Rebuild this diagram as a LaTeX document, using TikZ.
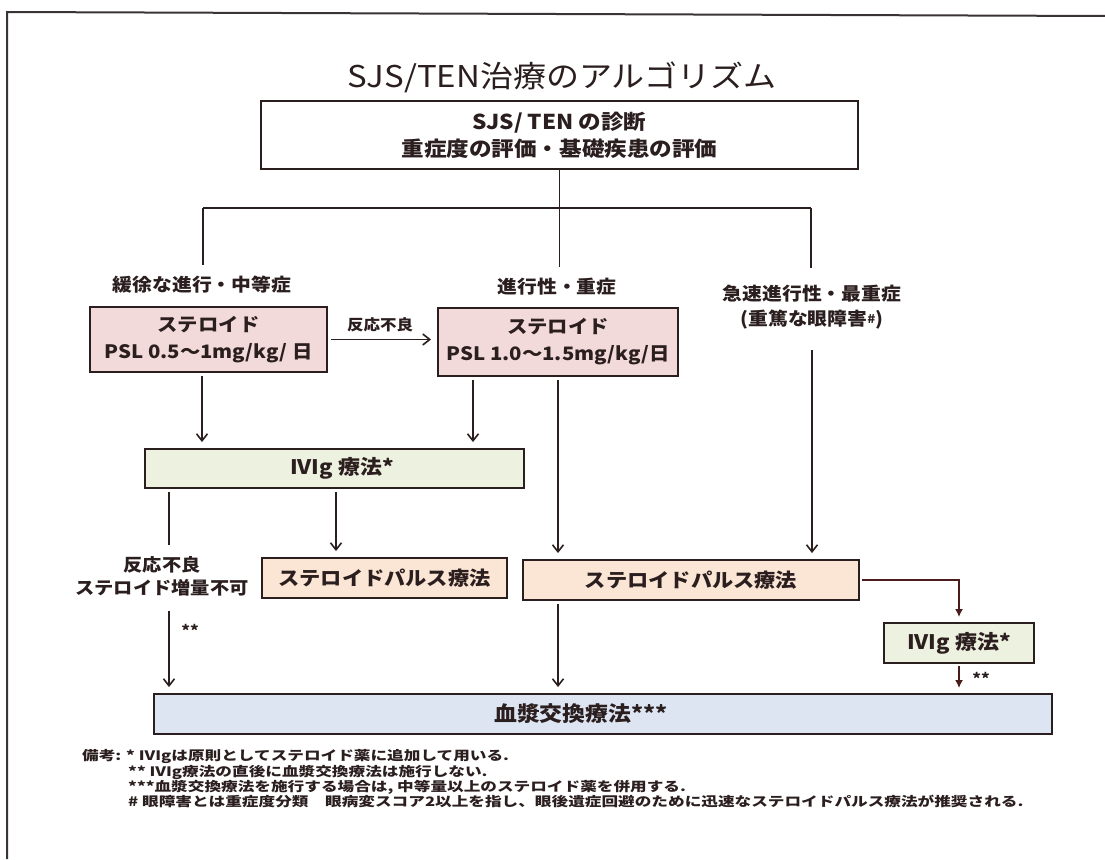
\documentclass[tikz,border=0pt]{standalone}
\usepackage{fontspec}
\setmainfont{Noto Sans CJK JP}[FakeStretch=1.1]
\newfontfamily\notefont{Noto Sans CJK JP}[FakeStretch=1.28]
\usetikzlibrary{arrows.meta}
\definecolor{ink}{HTML}{2B1E1E}
\definecolor{frame}{HTML}{3A3333}
\definecolor{pinkF}{HTML}{F3DADA}
\definecolor{greenF}{HTML}{EDF1DF}
\definecolor{peachF}{HTML}{FBE5D5}
\definecolor{blueF}{HTML}{DDE5F3}
\definecolor{darkred}{HTML}{4A1C1C}
\tikzset{
  ln/.style={draw=ink, line width=1.6pt},
  arr/.style={ln, -{Straight Barb[length=7pt,width=11pt]}, shorten >=6pt, shorten <=3pt},
  redarr/.style={draw=darkred, line width=2.6pt, -{Latex[length=8pt,width=8pt]}, shorten >=5pt, shorten <=2pt},
  box/.style={draw=ink, line width=1.9pt, text=ink, align=center, inner sep=2pt},
  pinkbox/.style={box, fill=pinkF, font=\bfseries\fontsize{18.5}{27}\selectfont},
  greenbox/.style={box, fill=greenF, font=\bfseries\fontsize{20}{24}\selectfont},
  peachbox/.style={box, fill=peachF, font=\bfseries\fontsize{19.3}{24}\selectfont},
  bluebox/.style={box, fill=blueF, font=\bfseries\fontsize{20.8}{24}\selectfont},
  lbl/.style={text=ink, align=center, inner xsep=0pt, inner ysep=11pt, font=\bfseries\fontsize{18}{25}\selectfont},
  smalllbl/.style={text=ink, inner sep=0pt, font=\bfseries\fontsize{15}{18}\selectfont},
  note/.style={text=ink, anchor=base west, inner sep=0pt, font=\notefont\bfseries\fontsize{13}{15}\selectfont},
}
\begin{document}
\begin{tikzpicture}[x=1pt,y=-1pt]
\useasboundingbox (0,0) rectangle (1105,859);
\fill[white] (0,0) rectangle (1105,859);
% outer frame
\draw[frame, line width=2pt] (1105,16) -- (7,12) -- (7,859);

% title
\node[text=ink, inner sep=0pt, font=\fontsize{30}{32}\selectfont] (title) at (562,77) {SJS/TEN治療のアルゴリズム};

% top box
\node[box, minimum width=597pt, minimum height=68pt, font=\bfseries\fontsize{20.5}{27}\selectfont] (top) at (559.5,135) {SJS/ TEN の診断\\重症度の評価・基礎疾患の評価};

% branch labels
\node[lbl] (lblL) at (202,285) {緩徐な進行・中等症};
\node[lbl] (lblM) at (557,287) {進行性・重症};
\node[lbl, inner ysep=17pt] (lblR) at (812,307.5) {急速進行性・最重症\\(重篤な眼障害\raisebox{2pt}{\fontsize{12}{12}\selectfont\#})};

\coordinate (hL) at (203,208);
\coordinate (hR) at (811,208);
\draw[ln] (top.south) -- (top.south |- lblM.north);
\draw[ln] (hL) -- (hR);
\draw[ln] (hL) -- (hL |- lblL.north);
\draw[ln] (hR) -- (hR |- lblR.north);

% steroid boxes
\node[pinkbox, minimum width=237pt, minimum height=65pt] (sl1) at (208.5,339.5) {ステロイド\\PSL 0.5〜1mg/kg/ 日};
\node[pinkbox, minimum width=240pt, minimum height=68pt] (sl2) at (558,342) {ステロイド\\PSL 1.0〜1.5mg/kg/日};
\draw[arr] (sl1.east) -- (sl1.east -| sl2.west);
\node[smalllbl] (ng1) at (380,325) {反応不良};

% IVIg 1
\node[greenbox, minimum width=379pt, minimum height=39pt] (ivig1) at (334.5,468.5) {\hspace*{15pt}IVIg 療法*};
\coordinate (xa) at (202,0);
\coordinate (xb) at (473,0);
\draw[arr] (sl1.south -| xa) -- (ivig1.north -| xa);
\draw[arr] (sl2.south -| xb) -- (ivig1.north -| xb);

% pulse boxes
\node[peachbox, minimum width=245pt, minimum height=40pt] (pulse1) at (384.5,578) {ステロイドパルス療法};
\node[peachbox, minimum width=336pt, minimum height=40pt] (pulse2) at (691,580) {ステロイドパルス療法};
\draw[arr] (sl2.south) -- (sl2.south |- pulse2.north);
\draw[arr] (lblR.south) -- (lblR.south |- pulse2.north);
\coordinate (xc) at (336,0);
\draw[arr] (ivig1.south -| xc) -- (pulse1.north -| xc);

% left path
\node[lbl, font=\bfseries\fontsize{17.5}{23}\selectfont, inner ysep=11.5pt] (lblNG) at (162,576.5) {反応不良\\ステロイド増量不可};
\coordinate (xd) at (169,0);
\draw[ln, shorten <=3pt] (ivig1.south -| xd) -- (lblNG.north -| xd);

% plasma exchange
\node[bluebox, minimum width=898pt, minimum height=40pt] (plasma) at (603,714) {\hspace*{-44pt}血漿交換療法***};
\draw[arr] (lblNG.south -| xd) -- (plasma.north -| xd);
\node[smalllbl] (ast1) at (190,630) {**};
\draw[arr] (pulse2.south -| sl2.south) -- (plasma.north -| sl2.south);

% IVIg 2
\node[greenbox, minimum width=150pt, minimum height=40pt] (ivig2) at (959,643) {IVIg 療法*};
\draw[redarr] (pulse2.east) -| (ivig2.north);
\draw[redarr] (ivig2.south) -- (ivig2.south |- plasma.north);
\node[smalllbl] (ast2) at (981,678) {**};

% notes
\node[note] (n0) at (82,760) {備考:};
\node[note] (n1) at (126,760) {* IVIgは原則としてステロイド薬に追加して用いる.};
\node[note] (n2) at (128,776) {** IVIg療法の直後に血漿交換療法は施行しない.};
\node[note] (n3) at (128,791) {***血漿交換療法を施行する場合は, 中等量以上のステロイド薬を併用する.};
\node[note] (n4) at (128,806) {\# 眼障害とは重症度分類　眼病変スコア2以上を指し、眼後遺症回避のために迅速なステロイドパルス療法が推奨される.};
\end{tikzpicture}
\end{document}
